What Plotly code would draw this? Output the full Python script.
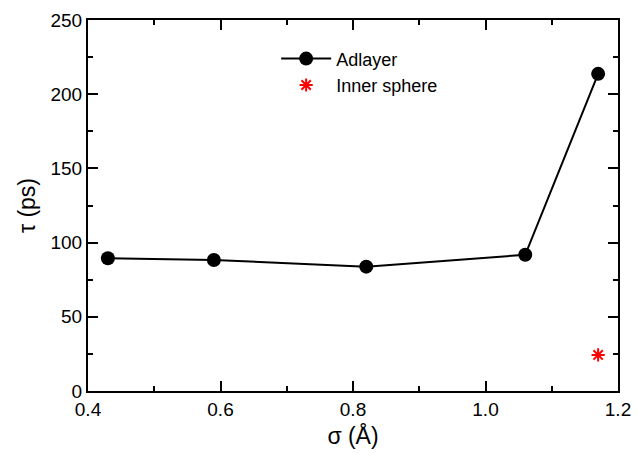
import plotly.graph_objects as go

sigma = [0.43, 0.59, 0.82, 1.06, 1.17]
tau_adlayer = [89.5, 88.3, 83.8, 91.8, 213.7]
sigma_inner = [1.17]
tau_inner = [24.3]

FONT = "Liberation Sans, Arial"

fig = go.Figure()
fig.add_trace(go.Scatter(
    x=sigma, y=tau_adlayer, mode="lines+markers", name="Adlayer",
    line=dict(color="black", width=2),
    marker=dict(symbol="circle", size=14, color="black"),
))
fig.add_trace(go.Scatter(
    x=sigma_inner, y=tau_inner, mode="markers", name="Inner sphere",
    marker=dict(symbol="asterisk-open", size=11, color="red",
                line=dict(color="red", width=2)),
))

fig.update_xaxes(
    range=[0.4, 1.2], tick0=0.4, dtick=0.2, tickformat=".1f",
    showline=True, linecolor="black", linewidth=2, mirror="allticks",
    showgrid=False, zeroline=False, ticks="inside", ticklen=10, tickwidth=2,
    tickcolor="black", tickfont=dict(family=FONT, size=19, color="black"),
    minor=dict(ticks="inside", ticklen=5, tickwidth=2, dtick=0.1, tickcolor="black", showgrid=False),
    title=dict(text="σ (Å)", font=dict(family=FONT, size=23, color="black"), standoff=9),
    layer="above traces",
)
fig.update_yaxes(
    range=[0, 250], tick0=0, dtick=50,
    showline=True, linecolor="black", linewidth=2, mirror="allticks",
    showgrid=False, zeroline=False, ticks="inside", ticklen=10, tickwidth=2,
    tickcolor="black", tickfont=dict(family=FONT, size=19, color="black"),
    minor=dict(ticks="inside", ticklen=5, tickwidth=2, dtick=25, tickcolor="black", showgrid=False),
    title=dict(text="τ (ps)", font=dict(family=FONT, size=23, color="black"), standoff=8),
    layer="above traces",
)

fig.update_layout(
    width=637, height=453,
    margin=dict(l=88, r=19, t=20, b=62, autoexpand=False),
    plot_bgcolor="white", paper_bgcolor="white",
    showlegend=True,
    legend=dict(x=0.355, y=0.945, xanchor="left", yanchor="top",
                bgcolor="rgba(0,0,0,0)", itemwidth=50,
                font=dict(family=FONT, size=18, color="black"),
                tracegroupgap=0),
)

fig.write_html("out.html")
